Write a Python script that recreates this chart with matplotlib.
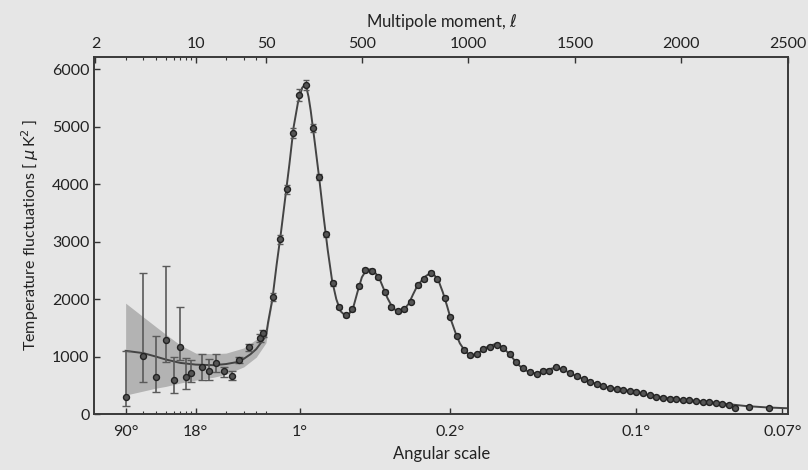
import numpy as np
import matplotlib
matplotlib.use("Agg")
import matplotlib.pyplot as plt

plt.rcParams['font.family'] = ['Lato', 'DejaVu Sans']
plt.rcParams['mathtext.fontset'] = 'dejavusans'

# low multipoles (asymmetric error bars)
low_l = [2, 3, 4, 5, 6, 7, 8, 9, 11.5, 13.5, 16, 19, 23, 27, 34, 44, 47]
low_d = [301, 1009, 650, 1288, 592, 1161, 638, 708, 824, 748, 893, 748, 667, 940, 1161, 1318, 1405]
low_lo = [145, 562, 388, 910, 371, 940, 430, 562, 592, 592, 736, 649, 592, 880, 1100, 1250, 1340]
low_hi = [1090, 2449, 1358, 2576, 998, 1857, 980, 940, 1044, 952, 1039, 823, 754, 1000, 1220, 1390, 1470]

# binned high multipoles
high_l = [82, 116, 147, 176, 207, 238, 269, 301, 332, 363,
          394, 425, 455, 485, 516, 547, 578, 609, 639, 670,
          700, 730, 763, 792, 824, 855, 888, 914, 945, 979,
          1008, 1039, 1070, 1101, 1132, 1163, 1195, 1225, 1257, 1289,
          1320, 1349, 1380, 1410, 1443, 1479, 1510, 1541, 1572, 1603,
          1634, 1665, 1696, 1727, 1758, 1789, 1820, 1851, 1882, 1913,
          1944, 1975, 2006, 2037, 2068, 2099, 2130, 2161, 2192, 2223,
          2253, 2317, 2413]
high_d = [2031, 3041, 3911, 4886, 5553, 5727, 4973, 4131, 3128, 2275,
          1860, 1720, 1830, 2233, 2507, 2494, 2390, 2120, 1868, 1798,
          1822, 1955, 2245, 2345, 2460, 2345, 2025, 1694, 1363, 1114,
          1022, 1039, 1126, 1172, 1206, 1143, 1044, 910, 795, 737,
          696, 754, 754, 813, 778, 719, 660, 610, 560, 520,
          480, 450, 430, 415, 400, 385, 360, 330, 305, 285,
          270, 258, 247, 236, 225, 214, 203, 190, 172, 155,
          100, 125, 100]
high_err = [70, 80, 80, 90, 100, 90, 70, 55, 45, 40,
            35, 35, 35, 35, 35, 35, 35, 35, 35, 35,
            30, 30, 30, 30, 30, 30, 30, 30, 30, 30,
            28, 28, 28, 28, 28, 28, 28, 28, 28, 28,
            25, 25, 25, 25, 25, 25, 25, 25, 25, 25,
            22, 22, 22, 22, 22, 22, 22, 22, 22, 22,
            20, 20, 20, 20, 20, 20, 20, 20, 20, 20,
            18, 18, 18]

# best-fit model curve
model_l = [2, 3, 4, 5, 7, 10, 15, 20, 25, 30, 35, 40, 45, 50, 60, 70, 80, 90, 100,
           120, 140, 160, 180, 200, 220, 230, 240, 250, 260, 280, 300, 320, 340, 360,
           380, 400, 420, 440, 460, 480, 500, 520, 540, 560, 580, 600, 620, 640, 660,
           680, 700, 720, 740, 760, 780, 800, 820, 840, 860, 880, 900, 920, 940, 960,
           980, 1000, 1020, 1040, 1060, 1080, 1100, 1120, 1140, 1160, 1180, 1200, 1220,
           1240, 1260, 1280, 1300, 1320, 1340, 1360, 1380, 1400, 1420, 1440, 1460, 1480,
           1500, 1550, 1600, 1650, 1700, 1750, 1800, 1850, 1900, 1950, 2000, 2100, 2200,
           2300, 2400, 2500]
model_d = [1100, 1060, 1000, 950, 890, 860, 850, 870, 900, 960, 1040, 1130, 1250, 1360, 1600, 1800, 2000, 2300, 2600,
           3150, 3750, 4350, 5000, 5420, 5680, 5720, 5680, 5520, 5280, 4700, 4100, 3450, 2850, 2330,
           2000, 1790, 1720, 1740, 1860, 2130, 2380, 2500, 2520, 2470, 2380, 2200, 2020, 1880, 1800,
           1800, 1830, 1920, 2080, 2230, 2320, 2400, 2450, 2420, 2320, 2120, 1880, 1620, 1410, 1230,
           1120, 1040, 1025, 1045, 1100, 1150, 1190, 1210, 1200, 1160, 1090, 1010, 920,
           840, 780, 740, 715, 710, 730, 760, 780, 800, 800, 775, 745, 710,
           670, 590, 525, 470, 435, 405, 370, 325, 295, 272, 250, 220, 180,
           140, 115, 100]

# cosmic variance band
band_l = [2, 3, 4, 5, 7, 10, 15, 20, 30, 40, 50, 60, 80]
band_hi = [1930, 1690, 1520, 1390, 1200, 1060, 1050, 1060, 1150, 1300, 1470, 1680, 2050]
band_lo = [330, 400, 450, 480, 540, 590, 640, 690, 820, 990, 1240, 1520, 1950]

# tick labels
top_ticks = [1, 10, 50, 500, 1000, 1500, 2000, 2500]
top_labels = ['2', '10', '50', '500', '1000', '1500', '2000', '2500']
top_minor = [2, 3, 4, 5, 6, 7, 8, 9, 20, 30, 40]
bot_ticks = [2, 10, 210, 914, 1785, 2474]
bot_labels = ['90°', '18°', '1°', '0.2°', '0.1°', '0.07°']
bot_minor = [3, 4, 5, 6, 7, 8, 9, 20, 30, 40, 50]

L_BREAK = 50.0
K = 0.002122


def fwd(l):
    l = np.asarray(l, dtype=float)
    lc = np.clip(l, 1e-3, None)
    return np.where(l <= L_BREAK, np.log10(lc), np.log10(L_BREAK) + (l - L_BREAK) * K)


def inv(u):
    u = np.asarray(u, dtype=float)
    ub = np.log10(L_BREAK)
    return np.where(u <= ub, 10 ** np.minimum(u, ub), L_BREAK + (u - ub) / K)


bg = '#e6e6e6'
fig = plt.figure(figsize=(8.08, 4.70), dpi=100, facecolor=bg)
ax = fig.add_axes([0.1167, 0.1191, 0.8585, 0.7603], facecolor=bg)
ax.set_xscale('function', functions=(fwd, inv))
xlim = (0.975, 2500)

ax.fill_between(band_l, band_lo, band_hi, color='#b3b3b3', lw=0, zorder=1)
ax.plot(model_l, model_d, color='#444444', lw=1.4, zorder=2)

low_err = [np.array(low_d) - np.array(low_lo), np.array(low_hi) - np.array(low_d)]
ax.errorbar(low_l, low_d, yerr=low_err, fmt='o', ms=4.3, mfc='#555555', mec='#222222', mew=1.0,
            ecolor='#5a5a5a', elinewidth=1.2, capsize=3, capthick=1.0, zorder=3)
ax.errorbar(high_l, high_d, yerr=high_err, fmt='o', ms=4.3, mfc='#555555', mec='#222222', mew=1.0,
            ecolor='#5a5a5a', elinewidth=1.0, capsize=2.5, capthick=1.0, zorder=3)

ax.set_xlim(*xlim)
ax.set_ylim(0, 6220)
ax.set_yticks([0, 1000, 2000, 3000, 4000, 5000, 6000])
ax.set_xticks(bot_ticks)
ax.set_xticklabels(bot_labels)
ax.set_xticks(bot_minor, minor=True)
ax.tick_params(axis='both', which='major', direction='in', length=4, width=1, colors='#333333',
               labelsize=11.5, labelcolor='#222222')
ax.tick_params(axis='both', which='minor', direction='in', length=2.5, width=0.8, colors='#333333')
ax.tick_params(axis='x', which='major', pad=8)
ax.set_xlabel('Angular scale', fontsize=12, color='#222222', labelpad=5)
ax.set_ylabel(r'Temperature fluctuations [ $\mu\,$K$^2$ ]', fontsize=11.5, color='#222222', labelpad=8)

ax2 = ax.twiny()
ax2.set_xscale('function', functions=(fwd, inv))
ax2.set_xlim(*xlim)
ax2.set_xticks(top_ticks)
ax2.set_xticklabels(top_labels)
ax2.set_xticks(top_minor, minor=True)
ax2.tick_params(axis='x', which='major', direction='in', length=4, width=1, colors='#333333',
                labelsize=11.5, labelcolor='#222222', pad=4)
ax2.tick_params(axis='x', which='minor', direction='in', length=2.5, width=0.8, colors='#333333')
ax2.set_xlabel(r'Multipole moment, $\ell$', fontsize=12, color='#222222', labelpad=7)

for a in (ax, ax2):
    for s in a.spines.values():
        s.set_color('#3a3a3a')
        s.set_linewidth(1.2)

fig.savefig('out.png', dpi=100, facecolor=bg)
